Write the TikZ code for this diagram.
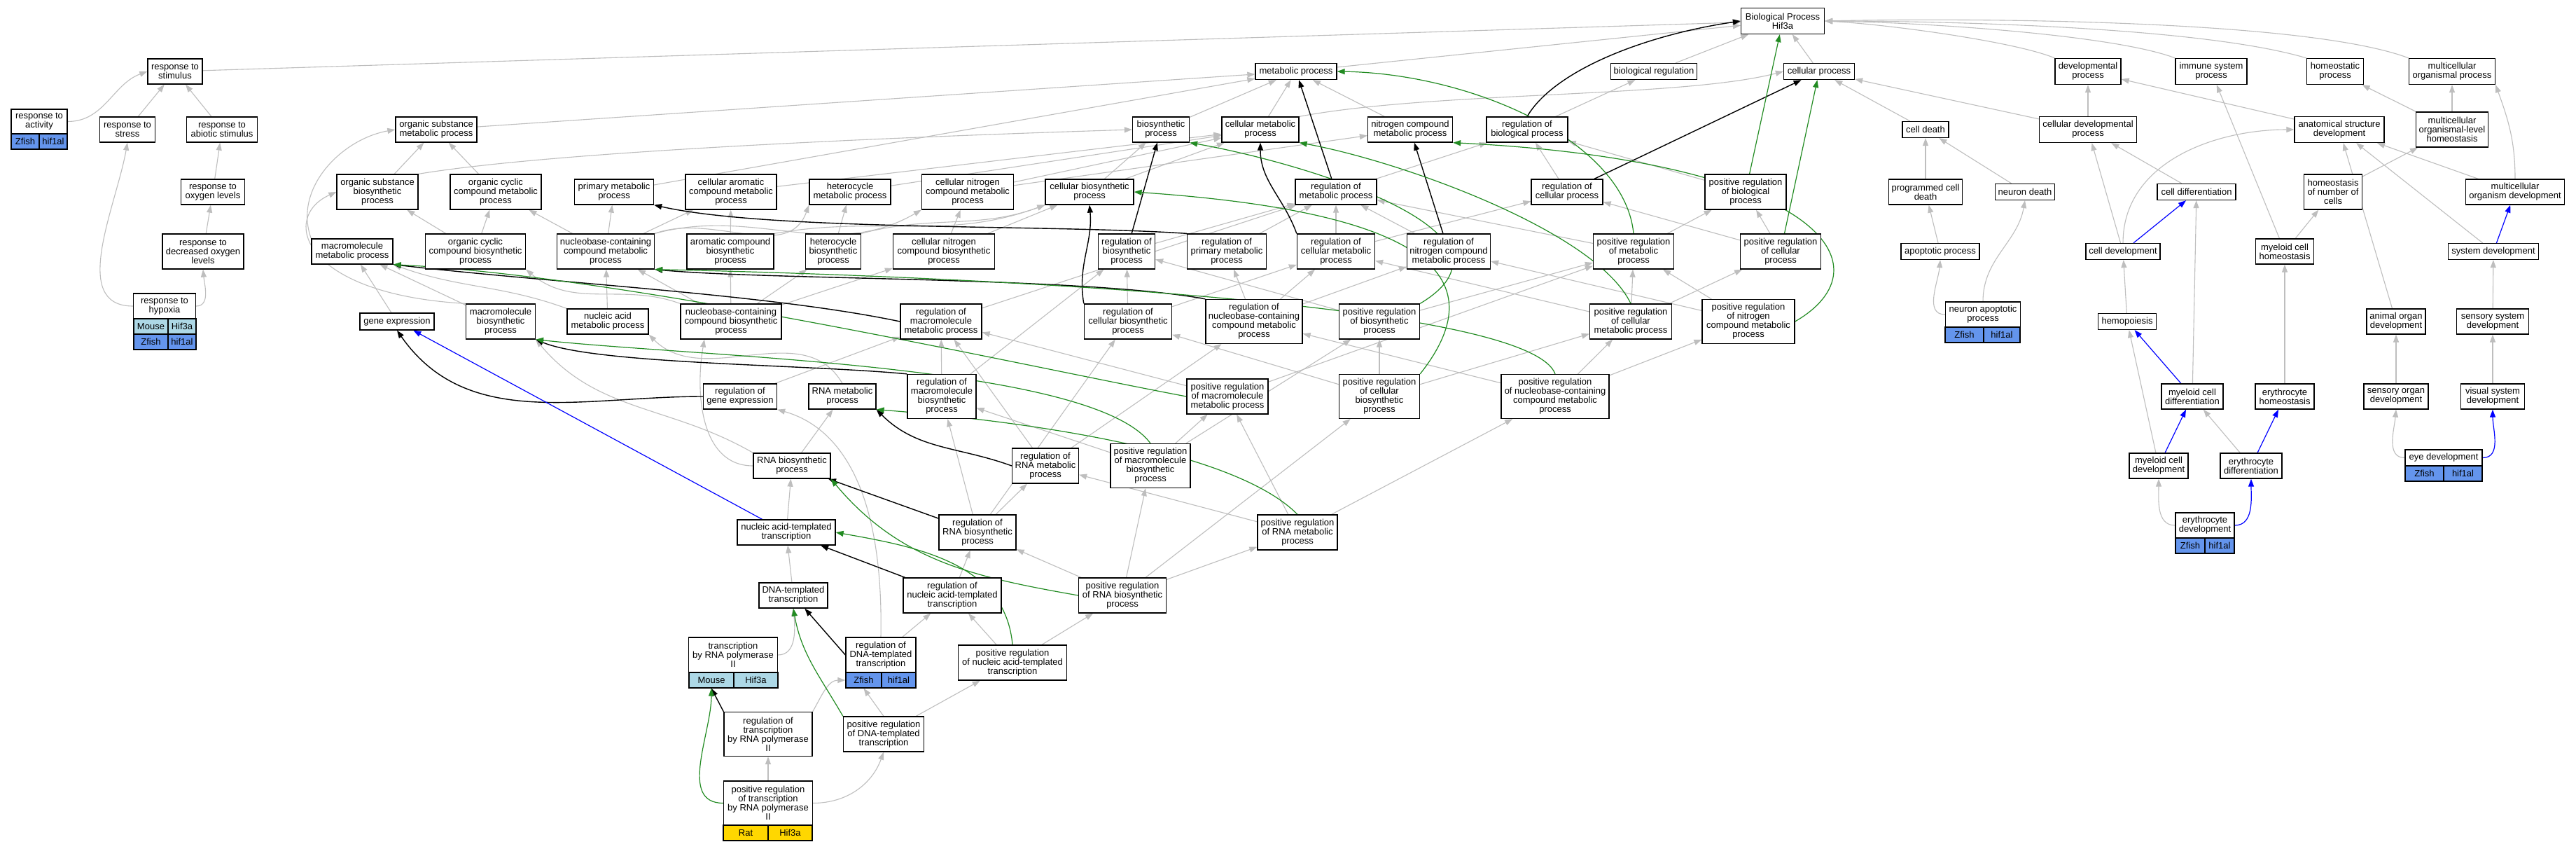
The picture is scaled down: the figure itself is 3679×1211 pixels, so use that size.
\documentclass[tikz,border=0pt]{standalone}
\usepackage{fontspec}
\setmainfont{Liberation Sans}
\usepackage{tikz}
\usetikzlibrary{arrows.meta}
\usetikzlibrary{backgrounds}
\definecolor{edgegray}{HTML}{BEBEBE}
\definecolor{gogreen}{HTML}{228B22}
\definecolor{mouseblue}{HTML}{ADD8E6}
\definecolor{zfishblue}{HTML}{6495ED}
\definecolor{ratgold}{HTML}{FFD700}
\newcommand{\goarrow}{-{Triangle[length=11pt,width=8pt]}}
\newcommand{\gofont}{\fontsize{13}{13}\selectfont}

\begin{document}
\begin{tikzpicture}[x=1pt,y=-1pt,
    term/.style={draw,line width=1.3pt,fill=white,align=center,inner xsep=2pt,inner ysep=0pt,font=\gofont},
    l1/.style={minimum height=23pt},
    l2/.style={minimum height=36pt},
    l3/.style={minimum height=50pt},
    l4/.style={minimum height=63pt},
    cell/.style={draw,line width=1.3pt,minimum height=22pt,inner sep=0pt,font=\gofont},
    isa/.style={draw=edgegray,line width=1.1pt,\goarrow},
    reg/.style={draw=black,line width=1.4pt,\goarrow},
    posreg/.style={draw=gogreen,line width=1.2pt,\goarrow},
    partof/.style={draw=blue,line width=1.2pt,\goarrow}]
\useasboundingbox (0,0) rectangle (3679,1211);

% stimulus branch
\node[term,l2,minimum width=78] (stim) at (250,102) {response to\\stimulus};
\node[term,minimum width=80,minimum height=35] (activity) at (56,173.5) {response to\\activity};
\node[cell,fill=zfishblue,minimum width=40] (activityA) at (36,202) {Zfish};
\node[cell,fill=zfishblue,minimum width=40] (activityB) at (76,202) {hif1al};
\node[term,l2,minimum width=79] (stress) at (182,185) {response to\\stress};
\node[term,l2,minimum width=101] (abiotic) at (317,185) {response to\\abiotic stimulus};
\node[term,l2,minimum width=91] (oxygen) at (304,274) {response to\\oxygen levels};
\node[term,l3,minimum width=116] (decoxygen) at (290,359) {response to\\decreased oxygen\\levels};
\node[term,l2,minimum width=89] (hypoxia) at (235,437) {response to\\hypoxia};
\node[cell,fill=mouseblue,minimum width=49] (hypoxiaA) at (215.5,466) {Mouse};
\node[cell,fill=mouseblue,minimum width=40] (hypoxiaB) at (260,466) {Hif3a};
\node[cell,fill=zfishblue,minimum width=49] (hypoxiaC) at (215.5,488) {Zfish};
\node[cell,fill=zfishblue,minimum width=40] (hypoxiaD) at (260,488) {hif1al};

% metabolic branch
\node[term,l2,minimum width=116] (orgsubmet) at (623,185) {organic substance\\metabolic process};
\node[term,l3,minimum width=116] (orgsubbio) at (539,274) {organic substance\\biosynthetic\\process};
\node[term,l3,minimum width=130] (orgcyclicmet) at (708,274) {organic cyclic\\compound metabolic\\process};
\node[term,l2,minimum width=113] (primary) at (877,274) {primary metabolic\\process};
\node[term,l3,minimum width=130] (cellaromatic) at (1044,274) {cellular aromatic\\compound metabolic\\process};
\node[term,l2,minimum width=116] (heteromet) at (1214,274) {heterocycle\\metabolic process};
\node[term,l3,minimum width=131] (cellnitromet) at (1382,274) {cellular nitrogen\\compound metabolic\\process};
\node[term,l2,minimum width=116] (macromet) at (503,359) {macromolecule\\metabolic process};
\node[term,l3,minimum width=143] (orgcyclicbio) at (679,359) {organic cyclic\\compound biosynthetic\\process};
\node[term,l3,minimum width=139] (nbmet) at (865,359) {nucleobase-containing\\compound metabolic\\process};
\node[term,l3,minimum width=124] (aromaticbio) at (1043,359) {aromatic compound\\biosynthetic\\process};
\node[term,l3,minimum width=79] (heterobio) at (1190,359) {heterocycle\\biosynthetic\\process};
\node[term,l3,minimum width=145] (cellnitrobio) at (1348,359) {cellular nitrogen\\compound biosynthetic\\process};
\node[term,minimum height=24,minimum width=106] (geneexp) at (567,459) {gene expression};
\node[term,l3,minimum width=99] (macrobio) at (715,459) {macromolecule\\biosynthetic\\process};
\node[term,l2,minimum width=116] (nucacidmet) at (868,459) {nucleic acid\\metabolic process};
\node[term,l3,minimum width=144] (nbbio) at (1044,459) {nucleobase-containing\\compound biosynthetic\\process};
\node[term,l3,minimum width=116] (regmacromet) at (1344,459) {regulation of\\macromolecule\\metabolic process};
\node[term,l2,minimum width=105] (reggeneexp) at (1057,566) {regulation of\\gene expression};
\node[term,l2,minimum width=96] (rnamet) at (1203,566) {RNA metabolic\\process};
\node[term,l4,minimum width=98] (regmacrobio) at (1345,566) {regulation of\\macromolecule\\biosynthetic\\process};
\node[term,l2,minimum width=110] (rnabio) at (1131,665) {RNA biosynthetic\\process};
\node[term,l2,minimum width=140] (nattrans) at (1123,760) {nucleic acid-templated\\transcription};
\node[term,l2,minimum width=98] (dnatrans) at (1133,850) {DNA-templated\\transcription};
\node[term,l3,minimum width=127] (polii) at (1047,935) {transcription\\by RNA polymerase\\II};
\node[cell,fill=mouseblue,minimum width=64] (poliiA) at (1016,971) {Mouse};
\node[cell,fill=mouseblue,minimum width=63] (poliiB) at (1079.5,971) {Hif3a};
\node[term,l3,minimum width=100] (regdnatrans) at (1258,935) {regulation of\\DNA-templated\\transcription};
\node[cell,fill=zfishblue,minimum width=51] (regdnatransA) at (1233.5,971) {Zfish};
\node[cell,fill=zfishblue,minimum width=49] (regdnatransB) at (1283.5,971) {hif1al};
\node[term,l4,minimum width=126] (regpolii) at (1097,1048) {regulation of\\transcription\\by RNA polymerase\\II};
\node[term,l3,minimum width=115] (posregdnatrans) at (1262,1048) {positive regulation\\of DNA-templated\\transcription};
\node[term,l4,minimum width=127] (posregpolii) at (1097,1146.5) {positive regulation\\of transcription\\by RNA polymerase\\II};
\node[cell,fill=ratgold,minimum width=64] (posregpoliiA) at (1065,1189) {Rat};
\node[cell,fill=ratgold,minimum width=63] (posregpoliiB) at (1128.5,1189) {Hif3a};
\node[term,l3,minimum width=140] (regnattrans) at (1360,850) {regulation of\\nucleic acid-templated\\transcription};
\node[term,l3,minimum width=155] (posregnattrans) at (1446,946) {positive regulation\\of nucleic acid-templated\\transcription};
\node[term,l3,minimum width=125] (posregrnabio) at (1603,850) {positive regulation\\of RNA biosynthetic\\process};
\node[term,l3,minimum width=125] (regcellbio) at (1611,459) {regulation of\\cellular biosynthetic\\process};
\node[term,l4,minimum width=138] (regnbmet) at (1791,459) {regulation of\\nucleobase-containing\\compound metabolic\\process};
\node[term,l3,minimum width=115] (posregbiosyn) at (1970,459) {positive regulation\\of biosynthetic\\process};
\node[term,l3,minimum width=116] (posregmacromet) at (1753,566) {positive regulation\\of macromolecule\\metabolic process};
\node[term,l4,minimum width=115] (posregcellbio) at (1970,566) {positive regulation\\of cellular\\biosynthetic\\process};
\node[term,l4,minimum width=154] (posregnbmet) at (2221,566) {positive regulation\\of nucleobase-containing\\compound metabolic\\process};
\node[term,l3,minimum width=95] (regrnamet) at (1493,665) {regulation of\\RNA metabolic\\process};
\node[term,l4,minimum width=114] (posregmacrobio) at (1643,665) {positive regulation\\of macromolecule\\biosynthetic\\process};
\node[term,l3,minimum width=110] (regrnabio) at (1396,760) {regulation of\\RNA biosynthetic\\process};
\node[term,l3,minimum width=114] (posregrnamet) at (1853,760) {positive regulation\\of RNA metabolic\\process};
\node[term,l1,minimum width=116] (metproc) at (1851,102) {metabolic process};
\node[term,l2,minimum width=81] (biosynth) at (1658,185) {biosynthetic\\process};
\node[term,l2,minimum width=110] (cellmet) at (1800,185) {cellular metabolic\\process};
\node[term,l2,minimum width=121] (nitromet) at (2014,185) {nitrogen compound\\metabolic process};
\node[term,l2,minimum width=116] (regbio) at (2181,185) {regulation of\\biological process};
\node[term,l2,minimum width=126] (cellbio) at (1556,274) {cellular biosynthetic\\process};
\node[term,l2,minimum width=116] (regmet) at (1908,274) {regulation of\\metabolic process};
\node[term,l2,minimum width=102] (regcell) at (2238,274) {regulation of\\cellular process};
\node[term,l3,minimum width=81] (regbiosyn) at (1609,359) {regulation of\\biosynthetic\\process};
\node[term,l3,minimum width=113] (regprimary) at (1752,359) {regulation of\\primary metabolic\\process};
\node[term,l3,minimum width=111] (regcellmet) at (1908,359) {regulation of\\cellular metabolic\\process};
\node[term,l3,minimum width=119] (regnitro) at (2069,359) {regulation of\\nitrogen compound\\metabolic process};

% top and developmental branch
\node[term,minimum height=37,minimum width=119] (bp) at (2546,30) {Biological Process\\Hif3a};
\node[term,l1,minimum width=123] (bioreg) at (2362,102) {biological regulation};
\node[term,l1,minimum width=101] (cellproc) at (2598,102) {cellular process};
\node[term,minimum height=37,minimum width=94] (devproc) at (2982,102) {developmental\\process};
\node[term,minimum height=37,minimum width=102] (immune) at (3158,102) {immune system\\process};
\node[term,minimum height=37,minimum width=81] (homeostatic) at (3335,102) {homeostatic\\process};
\node[term,minimum height=37,minimum width=123] (multiorg) at (3502,102) {multicellular\\organismal process};
\node[term,l1,minimum width=66] (celldeath) at (2750,185) {cell death};
\node[term,minimum height=37,minimum width=139] (celldevproc) at (2982,185) {cellular developmental\\process};
\node[term,minimum height=37,minimum width=128] (anatdev) at (3341,185) {anatomical structure\\development};
\node[term,l3,minimum width=103] (multihomeo) at (3502,185) {multicellular\\organismal-level\\homeostasis};
\node[term,l3,minimum width=116] (posregbio) at (2493,274) {positive regulation\\of biological\\process};
\node[term,l2,minimum width=105] (progdeath) at (2750,274) {programmed cell\\death};
\node[term,l1,minimum width=85] (neurondeath) at (2892,274) {neuron death};
\node[term,l1,minimum width=112] (celldiff) at (3137,274) {cell differentiation};
\node[term,l3,minimum width=83] (homeonum) at (3332,274) {homeostasis\\of number of\\cells};
\node[term,l2,minimum width=141] (multidev) at (3592,274) {multicellular\\organism development};
\node[term,l3,minimum width=115] (posregmet) at (2333,359) {positive regulation\\of metabolic\\process};
\node[term,l3,minimum width=115] (posregcell) at (2543,359) {positive regulation\\of cellular\\process};
\node[term,l1,minimum width=112] (apoptotic) at (2771,359) {apoptotic process};
\node[term,l1,minimum width=106] (celldevelop) at (3032,359) {cell development};
\node[term,l2,minimum width=83] (myeloidhomeo) at (3263,359) {myeloid cell\\homeostasis};
\node[term,l1,minimum width=129] (sysdev) at (3561,359) {system development};
\node[term,l3,minimum width=117] (posregcellmet) at (2329,459) {positive regulation\\of cellular\\metabolic process};
\node[term,l4,minimum width=132] (posregnitro) at (2497,459) {positive regulation\\of nitrogen\\compound metabolic\\process};
\node[term,l2,minimum width=107] (neuronapop) at (2832,449) {neuron apoptotic\\process};
\node[cell,fill=zfishblue,minimum width=55] (neuronapopA) at (2805.5,478) {Zfish};
\node[cell,fill=zfishblue,minimum width=52] (neuronapopB) at (2859,478) {hif1al};
\node[term,l1,minimum width=83] (hemopoiesis) at (3038,459) {hemopoiesis};
\node[term,l2,minimum width=84] (animalorgan) at (3422,459) {animal organ\\development};
\node[term,l2,minimum width=103] (sensorysys) at (3560,459) {sensory system\\development};
\node[term,l2,minimum width=88] (myeloiddiff) at (3131,566) {myeloid cell\\differentiation};
\node[term,l2,minimum width=84] (erythrohomeo) at (3263,566) {erythrocyte\\homeostasis};
\node[term,l2,minimum width=92] (sensoryorgan) at (3422,566) {sensory organ\\development};
\node[term,l2,minimum width=91] (visualsys) at (3560,566) {visual system\\development};
\node[term,l2,minimum width=84] (myeloiddev) at (3083,665) {myeloid cell\\development};
\node[term,l2,minimum width=88] (erythrodiff) at (3215,665) {erythrocyte\\differentiation};
\node[term,l1,minimum width=110] (eyedev) at (3490,653.5) {eye development};
\node[cell,fill=zfishblue,minimum width=55] (eyedevA) at (3462.5,676) {Zfish};
\node[cell,fill=zfishblue,minimum width=55] (eyedevB) at (3517.5,676) {hif1al};
\node[term,l2,minimum width=84] (erythrodev) at (3149,750) {erythrocyte\\development};
\node[cell,fill=zfishblue,minimum width=42] (erythrodevA) at (3128,779) {Zfish};
\node[cell,fill=zfishblue,minimum width=42] (erythrodevB) at (3170,779) {hif1al};

\begin{scope}[on background layer]
\fill[white] (0,0) rectangle (3679,1211);
% is_a
\draw[isa] (stim) -- (bp);
\draw[isa] (activity.east) to[out=0,in=200] (stim.west);
\draw[isa] (stress) -- (stim);
\draw[isa] (abiotic) -- (stim);
\draw[isa] (oxygen) -- (abiotic);
\draw[isa] (decoxygen) -- (oxygen);
\draw[isa] (hypoxia.east) to[out=0,in=-85] (decoxygen.south);
\draw[isa] (hypoxia.west) to[out=180,in=-100] (stress.south);
\draw[isa] (orgsubmet) -- (metproc);
\draw[isa] (orgsubbio) -- (orgsubmet);
\draw[isa] (orgsubbio.north east) .. controls (800,215) and (1300,195) .. (biosynth.west);
\draw[isa] (orgcyclicmet) -- (orgsubmet);
\draw[isa] (primary) -- (metproc);
\draw[isa] (cellaromatic) -- (cellmet);
\draw[isa] (heteromet) -- (cellmet);
\draw[isa] (cellnitromet) -- (cellmet);
\draw[isa] (cellnitromet) -- (nitromet);
\draw[isa] (macromet.north west) to[out=110,in=190] (orgsubmet.west);
\draw[isa] (orgcyclicbio) -- (orgsubbio);
\draw[isa] (orgcyclicbio) -- (orgcyclicmet);
\draw[isa] (nbmet) -- (orgcyclicmet);
\draw[isa] (nbmet) -- (primary);
\draw[isa] (nbmet) -- (cellaromatic);
\draw[isa] (nbmet.north east) to[out=20,in=-110] (heteromet.south west);
\draw[isa] (nbmet.north east) to[out=15,in=-150] (cellnitromet.south west);
\draw[isa] (aromaticbio) -- (cellaromatic);
\draw[isa] (aromaticbio.north east) to[out=10,in=-160] (cellbio.south west);
\draw[isa] (heterobio) -- (heteromet);
\draw[isa] (heterobio.north east) to[out=15,in=-160] (cellbio.south west);
\draw[isa] (cellnitrobio) -- (cellnitromet);
\draw[isa] (cellnitrobio) -- (cellbio);
\draw[isa] (geneexp) -- (macromet);
\draw[isa] (macrobio) -- (macromet);
\draw[isa] (macrobio.north west) .. controls (430,420) and (400,310) .. (orgsubbio.west);
\draw[isa] (nucacidmet) -- (nbmet);
\draw[isa] (nucacidmet.north west) to[out=160,in=-20] (macromet.south east);
\draw[isa] (nbbio) -- (nbmet);
\draw[isa] (nbbio) -- (aromaticbio);
\draw[isa] (nbbio) -- (heterobio);
\draw[isa] (nbbio) -- (cellnitrobio);
\draw[isa] (nbbio.north west) to[out=160,in=-40] (orgcyclicbio.south east);
\draw[isa] (regmacromet) -- (regmet);
\draw[isa] (reggeneexp) -- (regmacromet);
\draw[isa] (rnamet.north) to[out=120,in=-45] (nucacidmet.south east);
\draw[isa] (regmacrobio) -- (regmacromet);
\draw[isa] (regmacrobio) -- (regbiosyn);
\draw[isa] (rnabio) -- (rnamet);
\draw[isa] (rnabio.north west) to[out=150,in=-50] (macrobio.south east);
\draw[isa] (rnabio.west) to[out=180,in=-100] ([xshift=-38pt]nbbio.south);
\draw[isa] (nattrans) -- (rnabio);
\draw[isa] (dnatrans) -- (nattrans);
\draw[isa] (polii.east) to[out=0,in=-85] (dnatrans.south);
\draw[isa] (regdnatrans.north) .. controls (1262,700) and (1200,610) .. (reggeneexp.south east);
\draw[isa] (regdnatrans) -- (regnattrans);
\draw[isa] (regpolii.north east) to[out=60,in=180] (regdnatransA.west);
\draw[isa] (posregdnatrans.north) -- (regdnatransA.south);
\draw[isa] (posregdnatrans) -- (posregnattrans);
\draw[isa] (posregpolii) -- (regpolii);
\draw[isa] (posregpolii.east) to[out=0,in=-110] (posregdnatrans.south);
\draw[isa] (regnattrans) -- (regrnabio);
\draw[isa] (posregnattrans) -- (regnattrans);
\draw[isa] (posregnattrans) -- (posregrnabio);
\draw[isa] (posregrnabio) -- (regrnabio);
\draw[isa] (posregrnabio) -- (posregrnamet);
\draw[isa] (posregrnabio) -- (posregmacrobio);
\draw[isa] (posregrnabio) -- (posregcellbio);
\draw[isa] (regcellbio) -- (regbiosyn);
\draw[isa] (regcellbio) -- (regcellmet);
\draw[isa] (regnbmet) -- (regprimary);
\draw[isa] (regnbmet) -- (regcellmet);
\draw[isa] (regnbmet) -- (regnitro);
\draw[isa] (posregbiosyn) -- (regbiosyn);
\draw[isa] (posregbiosyn) -- (posregmet);
\draw[isa] (posregmacromet) -- (regmacromet);
\draw[isa] (posregmacromet) -- (posregmet);
\draw[isa] (posregcellbio) -- (posregbiosyn);
\draw[isa] (posregcellbio) -- (regcellbio);
\draw[isa] (posregcellbio) -- (posregcellmet);
\draw[isa] (posregnbmet) -- (regnbmet);
\draw[isa] (posregnbmet) -- (posregcellmet);
\draw[isa] (posregnbmet) -- (posregnitro);
\draw[isa] (regrnamet) -- (regnbmet);
\draw[isa] (regrnamet) -- (regmacromet);
\draw[isa] (posregmacrobio) -- (regmacrobio);
\draw[isa] (posregmacrobio) -- (posregmacromet);
\draw[isa] (posregmacrobio) -- (posregbiosyn);
\draw[isa] (regrnabio) -- (regrnamet);
\draw[isa] (regrnabio) -- (regmacrobio);
\draw[isa] (regrnabio) -- (regcellbio);
\draw[isa] (posregrnamet) -- (regrnamet);
\draw[isa] (posregrnamet) -- (posregnbmet);
\draw[isa] (posregrnamet) -- (posregmacromet);
\draw[isa] (metproc) -- (bp);
\draw[isa] (biosynth) -- (metproc);
\draw[isa] (cellmet) -- (metproc);
\draw[isa] (cellmet.north east) .. controls (2050,130) and (2400,140) .. (cellproc.west);
\draw[isa] (nitromet) -- (metproc);
\draw[isa] (regbio) -- (bioreg);
\draw[isa] (cellbio) -- (biosynth);
\draw[isa] (cellbio) -- (cellmet);
\draw[isa] (regmet) -- (regbio);
\draw[isa] (regcell) -- (regbio);
\draw[isa] (regbiosyn) -- (regmet);
\draw[isa] (regprimary) -- (regmet);
\draw[isa] (regcellmet) -- (regmet);
\draw[isa] (regcellmet) -- (regcell);
\draw[isa] (regnitro) -- (regmet);
\draw[isa] (bioreg) -- (bp);
\draw[isa] (cellproc) -- (bp);
\draw[isa] (devproc.north west) .. controls (2880,60) and (2700,35) .. (bp.east);
\draw[isa] (immune.north west) .. controls (3020,50) and (2750,32) .. (bp.east);
\draw[isa] (homeostatic.north west) .. controls (3150,40) and (2800,30) .. (bp.east);
\draw[isa] (multiorg.north west) .. controls (3300,30) and (2850,25) .. (bp.east);
\draw[isa] (celldeath) -- (cellproc);
\draw[isa] (celldevproc) -- (devproc);
\draw[isa] (celldevproc) -- (cellproc);
\draw[isa] (anatdev) -- (devproc);
\draw[isa] (multihomeo) -- (homeostatic);
\draw[isa] (multihomeo) -- (multiorg);
\draw[isa] (posregbio) -- (regbio);
\draw[isa] (progdeath) -- (celldeath);
\draw[isa] (neurondeath) -- (celldeath);
\draw[isa] (celldiff) -- (celldevproc);
\draw[isa] (homeonum) -- (multihomeo);
\draw[isa] (multidev) -- (anatdev);
\draw[isa] (multidev.north) to[out=90,in=-70] (multiorg.south east);
\draw[isa] (posregmet) -- (regmet);
\draw[isa] (posregmet) -- (posregbio);
\draw[isa] (posregcell) -- (regcell);
\draw[isa] (posregcell) -- (posregbio);
\draw[isa] (apoptotic) -- (progdeath);
\draw[isa] (celldevelop) -- (celldevproc);
\draw[isa] (celldevelop.north) to[out=90,in=180] (anatdev.west);
\draw[isa] (myeloidhomeo) -- (homeonum);
\draw[isa] (myeloidhomeo) -- (immune);
\draw[isa] (sysdev) -- (anatdev);
\draw[isa] (posregcellmet) -- (posregmet);
\draw[isa] (posregcellmet) -- (regcellmet);
\draw[isa] (posregcellmet) -- (posregcell);
\draw[isa] (posregnitro) -- (regnitro);
\draw[isa] (posregnitro) -- (posregmet);
\draw[isa] (neuronapop.west) to[out=180,in=-95] (apoptotic.south);
\draw[isa] (neuronapop.north) to[out=90,in=-100] (neurondeath.south);
\draw[isa] (hemopoiesis) -- (celldevelop);
\draw[isa] (animalorgan) -- (anatdev);
\draw[isa] (sensorysys) -- (sysdev);
\draw[isa] (myeloiddiff) -- (celldiff);
\draw[isa] (erythrohomeo) -- (myeloidhomeo);
\draw[isa] (sensoryorgan) -- (animalorgan);
\draw[isa] (visualsys) -- (sensorysys);
\draw[isa] (myeloiddev) -- (hemopoiesis);
\draw[isa] (erythrodiff) -- (myeloiddiff);
\draw[isa] (eyedev.west) to[out=180,in=-95] (sensoryorgan.south);
\draw[isa] (erythrodev.west) to[out=180,in=-90] (myeloiddev.south);
% regulates
\draw[reg] (regbio.north) .. controls (2220,100) and (2350,50) .. (bp.west);
\draw[reg] (regcell) -- (cellproc);
\draw[reg] (regmet) -- (metproc);
\draw[reg] (regbiosyn) -- (biosynth);
\draw[reg] (regprimary.north west) .. controls (1500,320) and (1100,330) .. (primary.south east);
\draw[reg] (regcellmet.north west) to[out=110,in=-90] (cellmet.south);
\draw[reg] (regnitro) -- (nitromet);
\draw[reg] (regcellbio.north west) to[out=100,in=-85] (cellbio.south);
\draw[reg] (regnbmet.north west) .. controls (1550,395) and (1100,400) .. (nbmet.south east);
\draw[reg] (regmacromet.west) .. controls (1100,420) and (800,405) .. (macromet.south east);
\draw[reg] (reggeneexp.west) to[out=180,in=-55] (geneexp.south);
\draw[reg] (regmacrobio.north west) .. controls (1150,520) and (850,520) .. (macrobio.south east);
\draw[reg] (regrnamet.west) to[out=160,in=-45] (rnamet.south east);
\draw[reg] (regrnabio) -- (rnabio);
\draw[reg] (regnattrans) -- (nattrans);
\draw[reg] (regdnatrans.west) -- (dnatrans);
\draw[reg] (regpolii.north west) -- (poliiA.south);
% positively regulates
\draw[posreg] (posregbio) -- (bp);
\draw[posreg] (posregcell) -- (cellproc);
\draw[posreg] (posregmet.north) .. controls (2320,200) and (2100,105) .. (metproc.east);
\draw[posreg] (posregbiosyn.north east) .. controls (2200,330) and (1850,230) .. (biosynth.south east);
\draw[posreg] (posregcellmet.north) .. controls (2280,330) and (2000,230) .. (cellmet.south east);
\draw[posreg] (posregnitro.east) .. controls (2700,380) and (2600,230) .. (nitromet.south east);
\draw[posreg] (posregcellbio.north east) .. controls (2150,380) and (2000,300) .. (cellbio.east);
\draw[posreg] (posregnbmet.north) .. controls (2180,420) and (1200,390) .. (nbmet.south east);
\draw[posreg] (posregmacromet.west) .. controls (1450,520) and (900,395) .. (macromet.south east);
\draw[posreg] (posregmacrobio.north) .. controls (1560,520) and (1000,510) .. (macrobio.south east);
\draw[posreg] (posregrnamet.north) .. controls (1760,640) and (1450,600) .. (rnamet.south east);
\draw[posreg] (posregrnabio.west) to[out=170,in=-50] (rnabio.south east);
\draw[posreg] (posregnattrans.north) to[out=95,in=-10] (nattrans.east);
\draw[posreg] (posregdnatrans.north west) to[out=120,in=-80] (dnatrans.south);
\draw[posreg] (posregpolii.west) to[out=180,in=-90] (poliiA.south);
% part of
\draw[partof] (nattrans) -- (geneexp);
\draw[partof] (celldevelop) -- (celldiff);
\draw[partof] (sysdev) -- (multidev);
\draw[partof] (myeloiddiff) -- (hemopoiesis);
\draw[partof] (myeloiddev) -- (myeloiddiff);
\draw[partof] (erythrodiff) -- (erythrohomeo);
\draw[partof] (erythrodev.east) to[out=0,in=-90] (erythrodiff.south);
\draw[partof] (eyedev.east) to[out=0,in=-90] (visualsys.south);
\end{scope}
\end{tikzpicture}
\end{document}
